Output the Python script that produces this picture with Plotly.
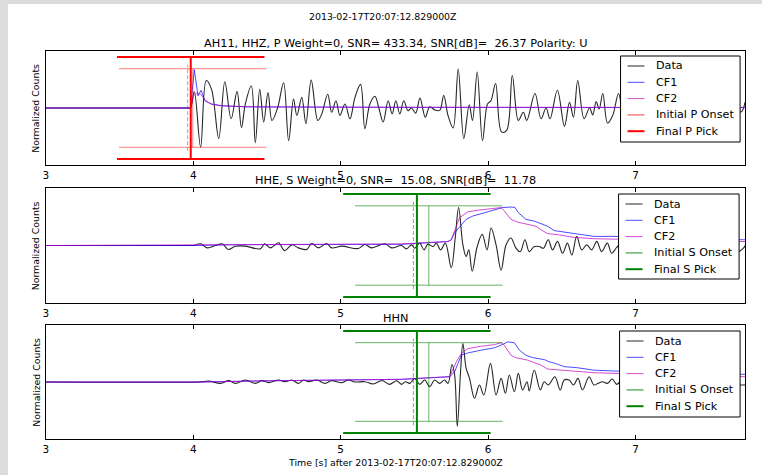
import plotly.graph_objects as go

W, H = 762, 475
FONT = "DejaVu Sans"

# ---------------- data ----------------
x_range = [3.0, 7.743]
tick_vals = [3, 4, 5, 6, 7]
tick_text = ["3", "4", "5", "6", "7"]

suptitle = "2013-02-17T20:07:12.829000Z"
titles = ["AH11, HHZ, P Weight=0, SNR= 433.34, SNR[dB]=\u00a0 26.37 Polarity: U",
          "HHE, S Weight=0, SNR=\u00a0 15.08, SNR[dB]=\u00a0 11.78",
          "HHN"]
xlabel = "Time [s] after 2013-02-17T20:07:12.829000Z"
ylabel = "Normalized Counts"

hhz_t = [3.0, 3.97, 3.982, 4.007, 4.050, 4.088, 4.124, 4.173, 4.214, 4.257, 4.297, 4.327, 4.353, 4.394,
         4.421, 4.451, 4.478, 4.507, 4.534, 4.572, 4.613, 4.647, 4.680, 4.703, 4.736, 4.764, 4.800, 4.845,
         4.872, 4.912, 4.939, 4.968, 4.995, 5.029, 5.063, 5.097, 5.135, 5.164, 5.198, 5.232, 5.259, 5.288,
         5.322, 5.349, 5.374, 5.401, 5.428, 5.457, 5.480, 5.509, 5.538, 5.574, 5.604, 5.638, 5.672, 5.699,
         5.728, 5.763, 5.797, 5.835, 5.872, 5.894, 5.926, 5.962, 5.996, 6.019, 6.051, 6.091, 6.126, 6.164,
         6.205, 6.239, 6.262, 6.318, 6.359, 6.393, 6.420, 6.470, 6.518, 6.552, 6.579, 6.608, 6.651, 6.688,
         6.710, 6.733, 6.753, 6.778, 6.810, 6.845, 6.885, 6.92, 6.96, 7.00, 7.05, 7.10, 7.15, 7.20, 7.25,
         7.30, 7.35, 7.40, 7.45, 7.50, 7.55, 7.60, 7.65, 7.716, 7.743]
hhz_v = [0, 0, 0, 0.42, -1.0, 0.70, 0.475, -0.775, 0.667, -0.275, 0.417, -0.5, 0.1, 0.558,
         -0.883, 0.475, -0.358, 0.392, -0.317, 0.0, 0.642, -0.833, 0.225, -0.19, 0.27, -0.4, 0.708, -0.317,
         -0.15, 0.35, -0.108, 0.183, -0.19, 0.10, -0.275, 0.27, 0.6, -0.525, 0.10, 0.3, 0.0, -0.358,
         0.183, -0.15, 0.183, -0.15, 0.183, -0.07, 0.0, -0.13, 0.25, -0.233, 0.033, -0.05, -0.06, 0.325,
         -0.19, -0.508, 0.992, -0.775, 0.083, -0.317, 0.917, -0.833, 0.1, 0.183, 0.625, -0.608, -0.567, 0.825,
         -0.317, -0.108, -0.317, 0.367, -0.275, 0.0, -0.275, 0.45, -0.467, 0.142, -0.233, 0.7, -0.275, 0.0,
         -0.175, 0.167, -0.025, 0.367, -0.383, -0.19, 0.367, -0.25, 0.2, -0.3, 0.35, -0.25, 0.3, -0.35, 0.2,
         -0.2, 0.3, -0.3, 0.25, -0.2, 0.3, -0.25, 0.2, -0.1, 0.15]
hhz_cf1_t = [3.0, 3.982, 4.007, 4.032, 4.053, 4.080, 4.124, 4.19, 4.35, 4.8, 5.5, 7.743]
hhz_cf1_v = [0, 0, 0.975, 0.31, 0.45, 0.18, 0.10, 0.06, 0.03, 0.02, 0.015, 0.01]
hhz_cf2_t = [3.0, 3.982, 4.0, 4.02, 4.05, 4.08, 4.12, 4.2, 4.4, 5.0, 7.743]
hhz_cf2_v = [0, 0, 0.3, 0.38, 0.35, 0.2, 0.1, 0.05, 0.03, 0.02, 0.015]

hhe_t = [3.0, 4.0, 4.0045, 4.050, 4.095, 4.196, 4.237, 4.286, 4.354, 4.455, 4.484, 4.523, 4.579, 4.619,
         4.669, 4.714, 4.770, 4.804, 4.849, 4.905, 4.939, 5.007, 5.119, 5.164, 5.209, 5.300, 5.345, 5.412,
         5.446, 5.480, 5.502, 5.536, 5.565, 5.592, 5.626, 5.649, 5.678, 5.710, 5.750, 5.777, 5.800, 5.829,
         5.851, 5.869, 5.892, 5.926, 5.960, 5.993, 6.020, 6.054, 6.088, 6.122, 6.155, 6.189, 6.218, 6.250,
         6.279, 6.313, 6.347, 6.376, 6.408, 6.437, 6.471, 6.505, 6.538, 6.568, 6.601, 6.635, 6.669, 6.703,
         6.737, 6.770, 6.809, 6.838, 6.872, 6.92, 6.97, 7.02, 7.07, 7.12, 7.17, 7.22, 7.27, 7.32, 7.37,
         7.42, 7.47, 7.52, 7.57, 7.62, 7.66, 7.698, 7.732, 7.743]
hhe_v = [0, 0, 0.0, 0.043, -0.06, 0.043, -0.1, -0.017, -0.017, -0.085, 0.04, -0.06, 0.068, -0.128,
         0.017, -0.06, -0.10, 0.05, -0.06, 0.05, -0.06, -0.017, -0.077, 0.026, -0.06, 0.043, -0.06, 0.0,
         -0.085, 0.017, -0.068, 0.06, -0.11, 0.034, -0.026, 0.06, -0.11, 0.06, -0.56, 0.19, 0.957, 0.017,
         -0.28, -0.11, -0.65, -0.026, 0.28, -0.11, 0.44, 0.017, -0.623, 0.017, 0.188, -0.068, -0.154, 0.145,
         -0.154, -0.026, -0.026, -0.068, 0.145, -0.11, 0.103, -0.197, 0.06, -0.24, 0.23, -0.11, 0.017, -0.11,
         0.103, -0.154, 0.06, -0.197, -0.05, 0.1, -0.12, 0.12, -0.15, 0.1, -0.1, 0.12, -0.13, 0.1, -0.1,
         0.12, -0.12, 0.1, -0.1, 0.08, -0.1, -0.154, -0.068, 0.0]
hhe_cf1_t = [3.0, 4.0, 4.3, 5.0, 5.412, 5.728, 5.750, 5.773, 5.851, 5.897, 5.953, 6.020, 6.099, 6.155,
             6.182, 6.205, 6.257, 6.313, 6.358, 6.403, 6.448, 6.516, 6.606, 6.719, 6.854, 7.732, 7.743]
hhe_cf1_v = [0.0, 0.0, 0.02, 0.03, 0.03, 0.1, 0.145, 0.32, 0.66, 0.744, 0.8, 0.872, 0.957, 0.97,
             0.96, 0.83, 0.66, 0.615, 0.547, 0.487, 0.376, 0.333, 0.29, 0.23, 0.23, 0.145, 0.145]
hhe_cf2_t = [3.0, 4.0, 4.5, 5.412, 5.728, 5.750, 5.806, 5.863, 5.930, 6.020, 6.088, 6.110, 6.155, 6.200,
             6.268, 6.324, 6.358, 6.403, 6.471, 6.583, 6.719, 6.854, 7.732, 7.743]
hhe_cf2_v = [0.0, 0.01, 0.03, 0.04, 0.1, 0.145, 0.7, 0.85, 0.889, 0.932, 0.957, 0.872, 0.66, 0.59,
             0.53, 0.487, 0.4, 0.3, 0.274, 0.205, 0.17, 0.16, 0.1, 0.1]

hhn_t = [3.0, 4.04, 4.061, 4.106, 4.185, 4.241, 4.286, 4.354, 4.421, 4.466, 4.511, 4.579, 4.624, 4.669,
         4.714, 4.748, 4.782, 4.838, 4.894, 4.939, 5.007, 5.052, 5.097, 5.164, 5.22, 5.28, 5.33, 5.38,
         5.412, 5.439, 5.469, 5.502, 5.536, 5.570, 5.604, 5.637, 5.671, 5.705, 5.728, 5.755, 5.773, 5.791,
         5.813, 5.829, 5.851, 5.874, 5.908, 5.941, 5.971, 6.016, 6.054, 6.088, 6.117, 6.144, 6.178, 6.205,
         6.234, 6.264, 6.279, 6.313, 6.354, 6.381, 6.408, 6.453, 6.489, 6.516, 6.550, 6.579, 6.610, 6.640,
         6.685, 6.718, 6.746, 6.775, 6.809, 6.842, 6.872, 6.92, 6.97, 7.02, 7.07, 7.12, 7.17, 7.22, 7.27,
         7.32, 7.37, 7.42, 7.47, 7.52, 7.57, 7.62, 7.66, 7.698, 7.732, 7.743]
hhn_v = [0, 0, 0.008, 0.025, -0.034, 0.034, -0.034, 0.05, -0.034, 0.034, -0.017, 0.05, 0.008, 0.05,
         -0.034, 0.05, 0.008, 0.05, -0.034, 0.034, -0.017, 0.05, 0.0, 0.008, -0.05, 0.04, -0.06, 0.03,
         -0.06, 0.008, -0.034, 0.093, -0.06, 0.05, -0.118, 0.05, -0.034, 0.05, -0.034, 0.447, 0.177, -1.13,
         0.262, 0.979, 0.35, 0.093, -0.413, -0.076, -0.33, 0.473, -0.33, 0.093, -0.287, 0.177, -0.245, 0.219,
         -0.203, 0.008, -0.228, 0.304, -0.203, 0.008, -0.076, 0.135, -0.203, 0.05, 0.05, -0.076, 0.093, -0.203,
         0.135, -0.076, -0.034, 0.008, -0.034, 0.076, -0.06, 0.1, -0.12, 0.1, -0.12, 0.1, -0.1, 0.1, -0.12,
         0.1, -0.1, 0.1, -0.1, 0.08, -0.1, 0.08, -0.08, -0.076, -0.076, -0.076]
hhn_cf1_t = [3.0, 4.05, 4.5, 5.0, 5.412, 5.739, 5.773, 5.818, 5.863, 5.953, 6.043, 6.088, 6.133, 6.178,
             6.212, 6.257, 6.302, 6.381, 6.414, 6.459, 6.516, 6.606, 6.719, 6.854, 7.732, 7.743]
hhn_cf1_v = [0, 0, 0.03, 0.05, 0.068, 0.135, 0.26, 0.68, 0.74, 0.81, 0.87, 0.937, 1.02, 1.0,
             0.81, 0.68, 0.62, 0.57, 0.515, 0.47, 0.39, 0.363, 0.30, 0.28, 0.194, 0.194]
hhn_cf2_t = [3.0, 4.05, 4.5, 5.0, 5.412, 5.739, 5.784, 5.818, 5.863, 5.953, 6.043, 6.088, 6.110, 6.155,
             6.189, 6.268, 6.358, 6.403, 6.493, 6.583, 6.719, 6.854, 7.732, 7.743]
hhn_cf2_v = [0, 0, 0.03, 0.05, 0.068, 0.135, 0.51, 0.726, 0.85, 0.91, 0.95, 1.0, 0.937, 0.68,
             0.616, 0.557, 0.43, 0.33, 0.304, 0.26, 0.236, 0.22, 0.135, 0.135]

# picks (s)
p_initial, p_final, p_early = 3.997, 3.983, 3.962
s_initial, s_final, s_early = 5.598, 5.517, 5.493
onset_level, final_level, early_level, half_width = 1.0, 1.3, 1.1, 0.5
legend_labels_p = ["Data", "CF1", "CF2", "Initial P Onset", "Final P Pick"]
legend_labels_s = ["Data", "CF1", "CF2", "Initial S Onset", "Final S Pick"]

# ---------------- style ----------------
C_DATA = "rgba(0,0,0,0.85)"
C_CF1 = "rgba(0,0,255,0.7)"
C_CF2 = "rgba(191,0,191,0.7)"
C_RED_L = "rgba(255,0,0,0.5)"
C_RED = "#ff0000"
C_GRN_L = "rgba(0,128,0,0.6)"
C_GRN = "#008000"

def fx(p):
    return p / W

def fy(p):
    return 1 - p / H

AX_L, AX_R = 43, 745
panels_px = [(51, 165), (188, 303), (325, 439)]
legend_px = [(620, 740, 56, 142), (618, 739, 194, 279), (619, 740, 331, 417)]

panels = [
    dict(t=hhz_t, v=hhz_v, c1t=hhz_cf1_t, c1v=hhz_cf1_v, c2t=hhz_cf2_t, c2v=hhz_cf2_v,
         ini=p_initial, fin=p_final, ear=p_early, cl=C_RED_L, cf=C_RED, labels=legend_labels_p),
    dict(t=hhe_t, v=hhe_v, c1t=hhe_cf1_t, c1v=hhe_cf1_v, c2t=hhe_cf2_t, c2v=hhe_cf2_v,
         ini=s_initial, fin=s_final, ear=s_early, cl=C_GRN_L, cf=C_GRN, labels=legend_labels_s),
    dict(t=hhn_t, v=hhn_v, c1t=hhn_cf1_t, c1v=hhn_cf1_v, c2t=hhn_cf2_t, c2v=hhn_cf2_v,
         ini=s_initial, fin=s_final, ear=s_early, cl=C_GRN_L, cf=C_GRN, labels=legend_labels_s),
]

fig = go.Figure()
shapes = [dict(type="rect", xref="paper", yref="paper", x0=fx(5), x1=1, y0=0, y1=fy(4),
               fillcolor="white", line=dict(width=0), layer="below")]
annotations = []

for i, p in enumerate(panels):
    n = "" if i == 0 else str(i + 1)
    xa, ya = "x" + n, "y" + n

    def add(x, y, color, width=1, dash="solid", shape="linear"):
        fig.add_trace(go.Scatter(x=x, y=y, mode="lines", xaxis=xa, yaxis=ya, showlegend=False,
                                 hoverinfo="skip",
                                 line=dict(color=color, width=width, dash=dash, shape=shape)))

    add(p["t"], p["v"], C_DATA, 1.1, shape="spline")
    add(p["c1t"], p["c1v"], C_CF1, 1)
    add(p["c2t"], p["c2v"], C_CF2, 1)
    # initial onset
    t0 = p["ini"]
    add([t0, t0], [-onset_level, onset_level], p["cl"], 1)
    add([t0 - half_width, t0 + half_width], [onset_level, onset_level], p["cl"], 1)
    add([t0 - half_width, t0 + half_width], [-onset_level, -onset_level], p["cl"], 1)
    # early (dashed)
    te = p["ear"]
    add([te, te], [-early_level, early_level], p["cl"], 1, dash="4px,2px")
    # final pick
    tf = p["fin"]
    add([tf, tf], [-final_level, final_level], p["cf"], 2)
    add([tf - half_width, tf + half_width], [final_level, final_level], p["cf"], 2)
    add([tf - half_width, tf + half_width], [-final_level, -final_level], p["cf"], 2)

    top, bot = panels_px[i]
    fig.update_layout(**{
        "xaxis" + n: dict(domain=[fx(AX_L), fx(AX_R)], range=x_range, anchor=ya,
                          showline=True, linecolor="black", linewidth=1, mirror="ticks",
                          ticks="inside", ticklen=4, tickwidth=1, tickcolor="black",
                          tickvals=tick_vals, ticktext=tick_text, showgrid=False, zeroline=False,
                          tickfont=dict(family=FONT, size=10.5, color="black")),
        "yaxis" + n: dict(domain=[fy(bot), fy(top)], range=[-1.45, 1.45], anchor=xa,
                          showline=True, linecolor="black", linewidth=1, mirror=True,
                          showticklabels=False, ticks="", showgrid=False, zeroline=False),
    })
    # titles
    ty = [44, 180, 318][i]
    annotations.append(dict(text=titles[i], xref="paper", yref="paper", x=fx((AX_L + AX_R) / 2),
                            y=fy(ty), xanchor="center", yanchor="middle", showarrow=False,
                            font=dict(family=FONT, size=11.3, color="black")))
    annotations.append(dict(text=ylabel, xref="paper", yref="paper", x=fx(33),
                            y=fy((top + bot) / 2), xanchor="center", yanchor="middle",
                            textangle=-90, showarrow=False,
                            font=dict(family=FONT, size=9.4, color="black")))
    # legend
    lx0, lx1, ly0, ly1 = legend_px[i]
    shapes.append(dict(type="rect", xref="paper", yref="paper", x0=fx(lx0), x1=fx(lx1),
                       y0=fy(ly1), y1=fy(ly0), fillcolor="white",
                       line=dict(color="black", width=1), layer="above"))
    colors = [C_DATA, C_CF1, C_CF2, p["cl"], p["cf"]]
    widths = [1, 1, 1, 1.5, 2]
    for k, lab in enumerate(p["labels"]):
        yy = ly0 + 10 + 16.3 * k
        shapes.append(dict(type="line", xref="paper", yref="paper", x0=fx(lx0 + 7), x1=fx(lx0 + 24),
                           y0=fy(yy), y1=fy(yy), line=dict(color=colors[k], width=widths[k]),
                           layer="above"))
        annotations.append(dict(text=lab, xref="paper", yref="paper", x=fx(lx0 + 34), y=fy(yy),
                                xanchor="left", yanchor="middle", showarrow=False,
                                font=dict(family=FONT, size=11.2, color="black")))

annotations.append(dict(text=suptitle, xref="paper", yref="paper", x=fx(381), y=fy(17),
                        xanchor="center", yanchor="middle", showarrow=False,
                        font=dict(family=FONT, size=9.4, color="black")))
annotations.append(dict(text=xlabel, xref="paper", yref="paper", x=fx((AX_L + AX_R) / 2), y=fy(462),
                        xanchor="center", yanchor="middle", showarrow=False,
                        font=dict(family=FONT, size=9.4, color="black")))

fig.update_layout(width=W, height=H, margin=dict(l=0, r=0, t=0, b=0),
                  paper_bgcolor="#dcdcdc", plot_bgcolor="white",
                  shapes=shapes, annotations=annotations, showlegend=False,
                  font=dict(family=FONT))
fig.write_html("out.html", config={"displayModeBar": False},
               post_script="document.body.style.margin='0';document.body.style.padding='0';"
                           "document.body.style.overflow='hidden';")
